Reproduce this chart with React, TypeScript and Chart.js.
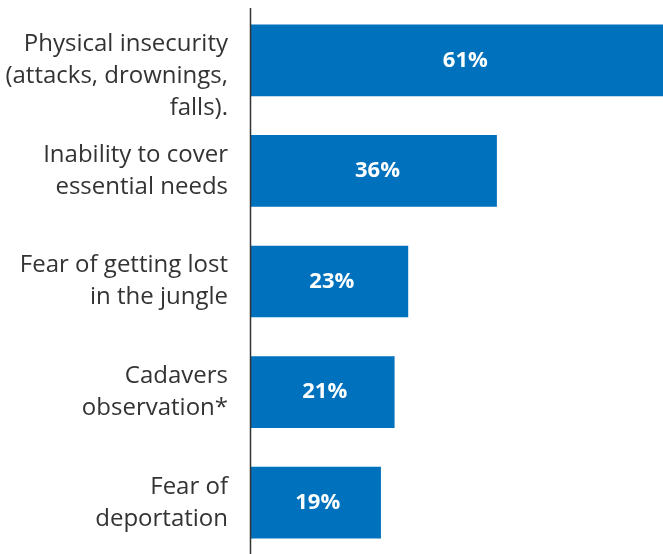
import React, { useEffect, useRef } from "react";
import { Chart, registerables } from "chart.js";

Chart.register(...registerables);

const categories: string[][] = [
  ["", "Physical insecurity", "(attacks, drownings,", "falls)."],
  ["Inability to cover", "essential needs"],
  ["Fear of getting lost", "in the jungle"],
  ["Cadavers", "observation*"],
  ["Fear of", "deportation"],
];
const values: number[] = [61, 36, 23, 21, 19];
const valueLabels: string[] = ["61%", "36%", "23%", "21%", "19%"];

const FONT = "'Open Sans', Lato, sans-serif";

export default function App() {
  const ref = useRef<HTMLCanvasElement>(null);
  useEffect(() => {
    if (!ref.current) return;
    const labelPlugin = {
      id: "barLabels",
      afterDatasetsDraw(chart: any) {
        const ctx = chart.ctx;
        const meta = chart.getDatasetMeta(0);
        const xs = chart.scales.x;
        ctx.save();
        ctx.fillStyle = "#ffffff";
        ctx.font = `bold 22px ${FONT}`;
        ctx.textAlign = "center";
        ctx.textBaseline = "middle";
        meta.data.forEach((bar: any, i: number) => {
          const x0 = xs.getPixelForValue(0);
          const cx = x0 + (bar.x - x0) * 0.515;
          ctx.fillText(valueLabels[i], cx, bar.y);
        });
        ctx.restore();
      },
    };
    const axisPlugin = {
      id: "axisLine",
      afterDraw(chart: any) {
        const ctx = chart.ctx;
        const x = chart.chartArea.left - 0.5;
        ctx.save();
        ctx.strokeStyle = "#333333";
        ctx.lineWidth = 1.5;
        ctx.beginPath();
        ctx.moveTo(x, 8);
        ctx.lineTo(x, chart.height);
        ctx.stroke();
        ctx.restore();
      },
    };
    const chart = new Chart(ref.current, {
      type: "bar",
      data: {
        labels: categories,
        datasets: [
          {
            data: values,
            backgroundColor: "#0071bc",
            barThickness: 71,
          },
        ],
      },
      options: {
        indexAxis: "y",
        animation: false,
        responsive: false,
        maintainAspectRatio: false,
        layout: { padding: { top: 5, bottom: 0, left: 0, right: 0 } },
        plugins: { legend: { display: false }, tooltip: { enabled: false } },
        scales: {
          x: {
            display: false,
            min: 0,
            max: 60.4,
          },
          y: {
            afterFit: (s: any) => {
              s.width = 251;
              s.paddingTop = 0;
              s.paddingBottom = 0;
            },
            grid: { display: false, drawTicks: false },
            border: { display: false },
            ticks: {
              autoSkip: false,
              padding: 23,
              labelOffset: 0,
              color: "#333333",
              font: { family: FONT, size: 24, lineHeight: 1.333 },
            },
          },
        },
      },
      plugins: [labelPlugin, axisPlugin],
    });
    return () => chart.destroy();
  }, []);
  return (
    <div
      style={{
        position: "absolute",
        left: 0,
        top: 0,
        width: 663,
        height: 554,
        overflow: "hidden",
        background: "#fff",
      }}
    >
      <canvas ref={ref} width={663} height={558} style={{ display: "block" }} />
    </div>
  );
}
